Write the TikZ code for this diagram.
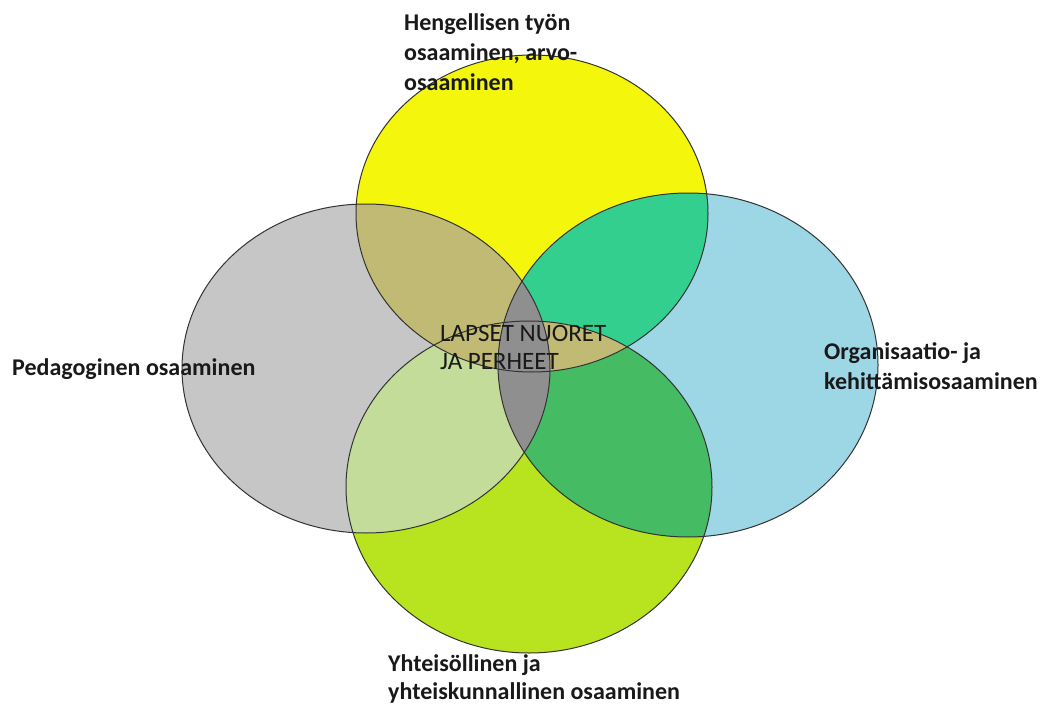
\documentclass[tikz,border=0pt]{standalone}
\usepackage{fontspec}
\setmainfont{Carlito}
\definecolor{yel}{HTML}{F4F70B}
\definecolor{gry}{HTML}{C6C6C6}
\definecolor{blu}{HTML}{9DD6E5}
\definecolor{grn}{HTML}{B8E31F}
\definecolor{oli}{HTML}{C1BA74}
\definecolor{tea}{HTML}{33CF8E}
\definecolor{lgr}{HTML}{C3DC9A}
\definecolor{dgr}{HTML}{45BC64}
\definecolor{cen}{HTML}{8F8F8F}
\definecolor{edge}{HTML}{333333}
\begin{document}
\begin{tikzpicture}[x=1pt,y=-1pt,
  lbl/.style={font=\bfseries\fontsize{24}{30}\selectfont, align=left, inner sep=0pt, text=black!90},
  rim/.style={draw=edge, line width=1pt}]
\useasboundingbox (0,0) rectangle (1044,706);
\fill[white] (0,0) rectangle (1044,706);
\coordinate (cy) at (532,213.5);
\coordinate (cg) at (366,368.5);
\coordinate (cb) at (688,365);
\coordinate (cn) at (529,487);
% base fills
\fill[yel] (cy) ellipse [x radius=176pt, y radius=158.5pt];
\fill[gry] (cg) ellipse [x radius=184pt, y radius=164.5pt];
\fill[blu] (cb) ellipse [x radius=190pt, y radius=172pt];
\fill[grn] (cn) ellipse [x radius=183pt, y radius=166pt];
% pairwise overlaps
\begin{scope}
  \clip (cy) ellipse [x radius=176pt, y radius=158.5pt];
  \fill[oli] (cg) ellipse [x radius=184pt, y radius=164.5pt];
  \fill[tea] (cb) ellipse [x radius=190pt, y radius=172pt];
\end{scope}
\begin{scope}
  \clip (cn) ellipse [x radius=183pt, y radius=166pt];
  \fill[lgr] (cg) ellipse [x radius=184pt, y radius=164.5pt];
  \fill[dgr] (cb) ellipse [x radius=190pt, y radius=172pt];
\end{scope}
\begin{scope}
  \clip (cn) ellipse [x radius=183pt, y radius=166pt];
  \fill[oli] (cy) ellipse [x radius=176pt, y radius=158.5pt];
\end{scope}
\begin{scope}
  \clip (cb) ellipse [x radius=190pt, y radius=172pt];
  \fill[cen] (cg) ellipse [x radius=184pt, y radius=164.5pt];
\end{scope}
% outlines
\draw[rim] (cy) ellipse [x radius=176pt, y radius=158.5pt];
\draw[rim] (cg) ellipse [x radius=184pt, y radius=164.5pt];
\draw[rim] (cb) ellipse [x radius=190pt, y radius=172pt];
\draw[rim] (cn) ellipse [x radius=183pt, y radius=166pt];
% labels
\node[lbl, anchor=west] (top) at (404,52) {Hengellisen työn\\osaaminen, arvo-\\osaaminen};
\node[lbl, anchor=west] (left) at (12,369) {Pedagoginen osaaminen};
\node[lbl, anchor=west] (right) at (824,366) {Organisaatio- ja\\kehittämisosaaminen};
\node[lbl, anchor=west, font=\bfseries\fontsize{24}{28}\selectfont] (bottom) at (388,679) {Yhteisöllinen ja\\yhteiskunnallinen osaaminen};
\node[lbl, anchor=west, font=\fontsize{25}{28}\selectfont] (mid) at (440,347) {LAPSET NUORET\\JA PERHEET};
\end{tikzpicture}
\end{document}
